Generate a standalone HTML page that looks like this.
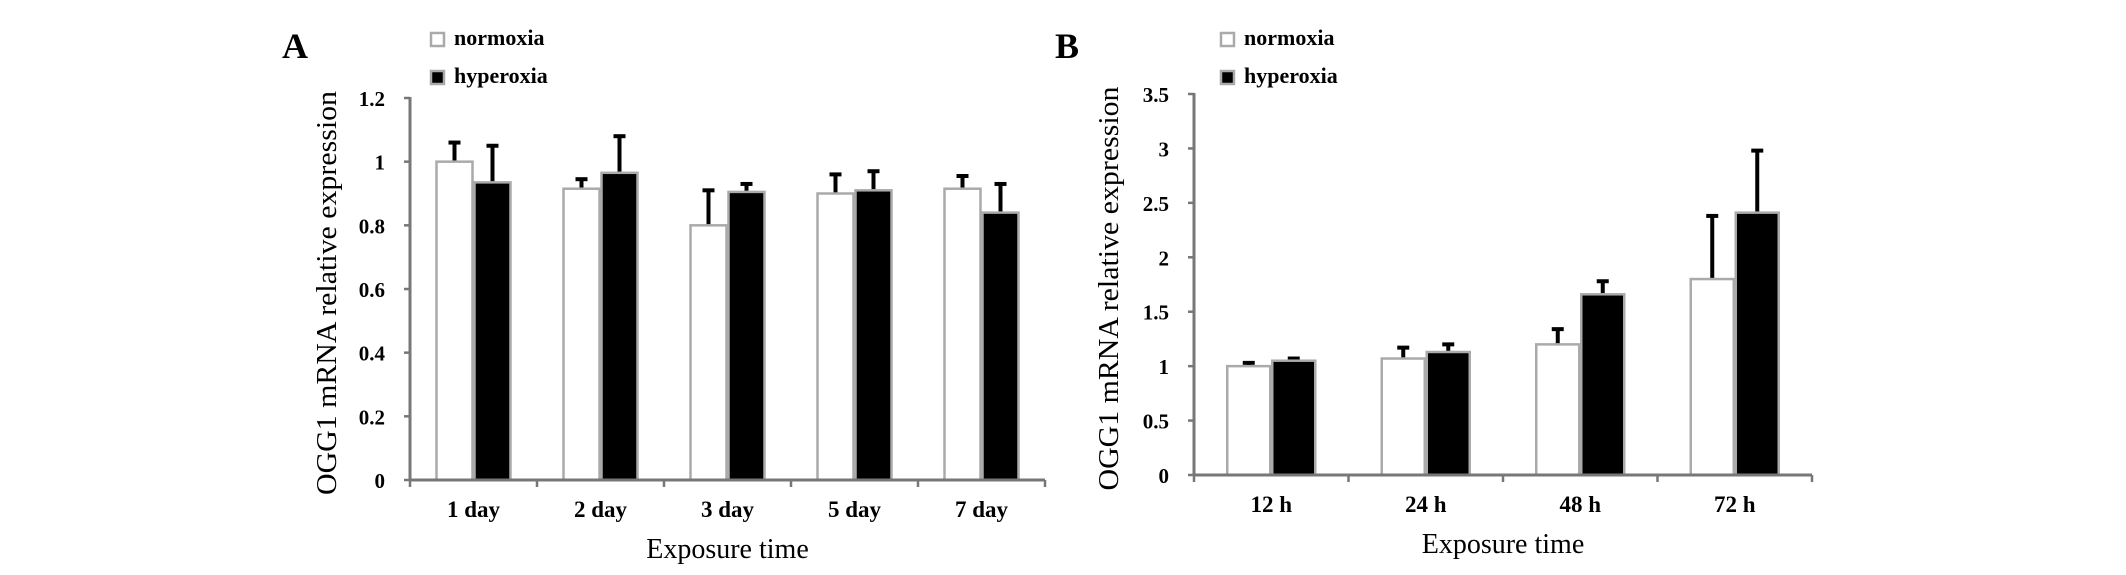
<!DOCTYPE html>
<html><head><meta charset="utf-8"><style>
html,body{margin:0;padding:0;background:#fff;}
svg{display:block;}
text{font-family:"Liberation Serif",serif;}
</style></head><body>
<svg id="s" width="2126" height="575" xmlns="http://www.w3.org/2000/svg"></svg>
<script>
const catsA=["1 day","2 day","3 day","5 day","7 day"];
const normA=[1.0,0.915,0.80,0.90,0.915];
const normErrA=[0.06,0.03,0.11,0.06,0.04];
const hypA=[0.935,0.965,0.905,0.91,0.84];
const hypErrA=[0.115,0.115,0.025,0.06,0.09];
const ticksA=["0","0.2","0.4","0.6","0.8","1","1.2"];
const catsB=["12 h","24 h","48 h","72 h"];
const normB=[1.0,1.07,1.2,1.8];
const normErrB=[0.03,0.10,0.14,0.58];
const hypB=[1.05,1.13,1.66,2.41];
const hypErrB=[0.02,0.07,0.12,0.57];
const ticksB=["0","0.5","1","1.5","2","2.5","3","3.5"];

const NS="http://www.w3.org/2000/svg";
const svg=document.getElementById('s');
function mk(tag,attrs,parent,txt){const e=document.createElementNS(NS,tag);for(const k in attrs)e.setAttribute(k,attrs[k]);if(txt!==undefined)e.textContent=txt;(parent||svg).appendChild(e);return e;}

function panel(o){
  const g=mk('g',{});
  
  
  const yMax=parseFloat(o.ticks[o.ticks.length-1]);
  const yS=v=>o.y0-(v/yMax)*(o.y0-o.yTop);
  const catW=o.catW;
  const xEnd=o.x0+catW*o.cats.length;
  // letter
  const L=mk('text',{x:o.letterX,y:58,'font-size':36,'font-weight':'bold'},g,o.id);
  
  
  // legend
  const l1=mk('rect',{x:o.legX,y:33,width:13,height:13,fill:'#fff',stroke:'#aaa','stroke-width':2.5},g);
  
  
  const t1=mk('text',{x:o.legX+23,y:45,'font-size':22,'font-weight':'bold'},g,'normoxia');
  
  
  const l2=mk('rect',{x:o.legX,y:71,width:13,height:13,fill:'#000',stroke:'#aaa','stroke-width':2.5},g);
  
  
  const t2=mk('text',{x:o.legX+23,y:83,'font-size':22,'font-weight':'bold'},g,'hyperoxia');
  
  
  // y title
  const yt=mk('text',{x:0,y:0,'font-size':29,'text-anchor':'middle',transform:`translate(${o.yTitleX},${(o.yTop+o.y0)/2+4}) rotate(-90)`,textLength:404,lengthAdjust:'spacingAndGlyphs'},g,'OGG1 mRNA relative expression');
  
  
  // y ticks
  o.ticks.forEach(t=>{
    const y=yS(parseFloat(t));
    const tk=mk('line',{x1:o.x0-6,x2:o.x0,y1:y,y2:y,stroke:'#777','stroke-width':2.5},g);
    
    
    const tl=mk('text',{x:o.x0-25,y:y+8,'font-size':21,'font-weight':'bold','text-anchor':'end'},g,t);
    
    
  });
  // bars
  o.cats.forEach((c,i)=>{
    const cx=o.x0+catW*(i+0.5);
    const bw=o.bw;
    [[o.norm,o.normErr,'#fff','normoxia',-1],[o.hyp,o.hypErr,'#000','hyperoxia',1]].forEach(([vals,errs,fill,nm,side])=>{
      const v=vals[i];
      const bx=side<0?cx-bw-1:cx+1;
      const ex=bx+bw/2;
      const eb=mk('line',{x1:ex,x2:ex,y1:yS(v),y2:yS(v+errs[i]),stroke:'#000','stroke-width':4},g);
      
      
      const cap=mk('line',{x1:ex-6,x2:ex+6,y1:yS(v+errs[i]),y2:yS(v+errs[i]),stroke:'#000','stroke-width':4},g);
      
      
      const r=mk('rect',{x:bx,y:yS(v),width:bw,height:o.y0-yS(v),fill:fill,stroke:'#aaa','stroke-width':2.5},g);
      
      
    });
    const xl=mk('text',{x:cx,y:o.y0+37,'font-size':23,'font-weight':'bold','text-anchor':'middle'},g,c);
    
    
  });
  for(let i=0;i<=o.cats.length;i++){
    const x=o.x0+catW*i;
    const tk=mk('line',{x1:x,x2:x,y1:o.y0,y2:o.y0+7,stroke:'#777','stroke-width':2.5},g);
    
    
  }
  const ya=mk('line',{x1:o.x0,x2:o.x0,y1:o.yTop-1,y2:o.y0,stroke:'#777','stroke-width':3},g);
  
  
  const xa=mk('line',{x1:o.x0,x2:xEnd,y1:o.y0,y2:o.y0,stroke:'#777','stroke-width':3},g);
  
  
  const xt=mk('text',{x:(o.x0+xEnd)/2,y:o.y0+78,'font-size':28,'text-anchor':'middle'},g,'Exposure time');
  
  
}
panel({id:'A',cats:catsA,norm:normA,normErr:normErrA,hyp:hypA,hypErr:hypErrA,ticks:ticksA,x0:410,y0:480,yTop:98,catW:127,bw:36,letterX:282,legX:431,yTitleX:336});
panel({id:'B',cats:catsB,norm:normB,normErr:normErrB,hyp:hypB,hypErr:hypErrB,ticks:ticksB,x0:1194,y0:475,yTop:94,catW:154.5,bw:43,letterX:1055,legX:1221,yTitleX:1118});
</script>
</body></html>
